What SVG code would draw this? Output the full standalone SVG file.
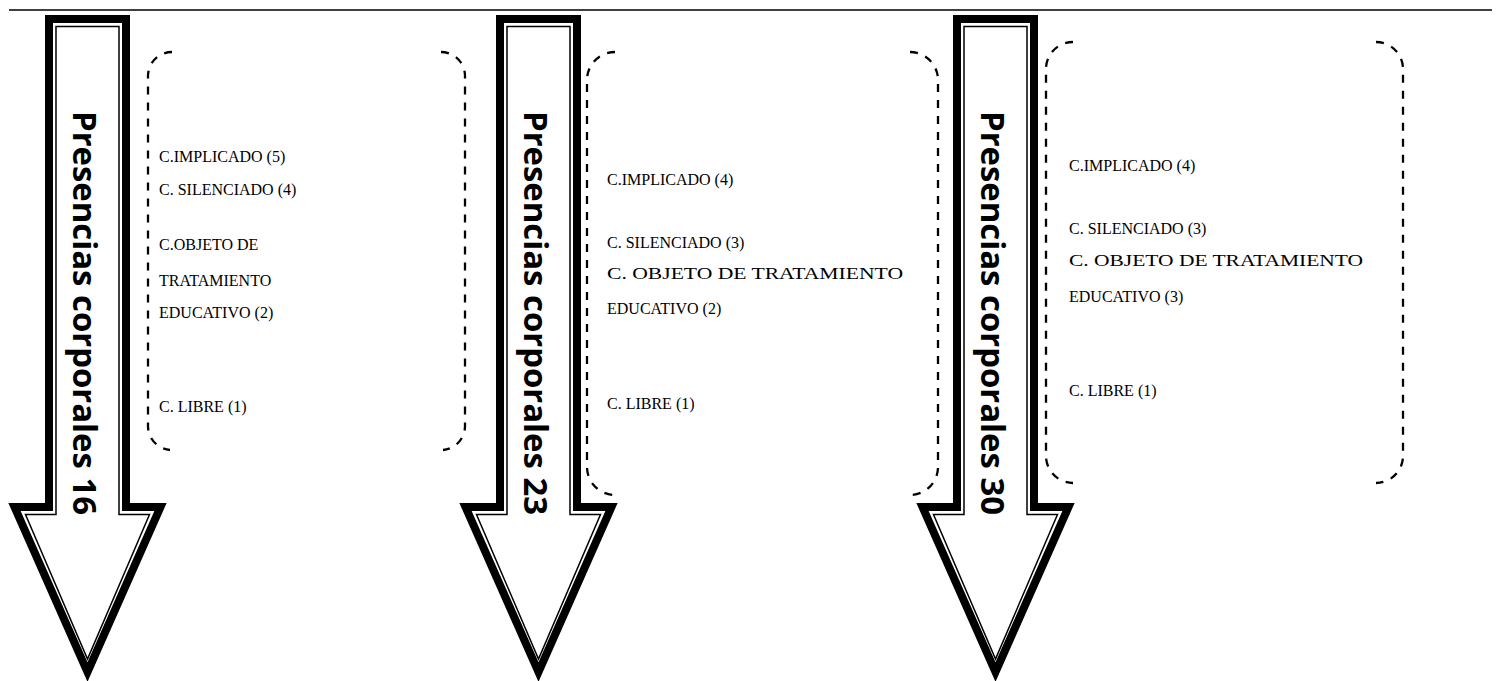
<svg xmlns="http://www.w3.org/2000/svg" width="1502" height="681" viewBox="0 0 1502 681">
<style>
.outer{fill:#fff;stroke:#000;stroke-width:8;stroke-linejoin:miter;stroke-miterlimit:10}
.inner{fill:none;stroke:#000;stroke-width:1.5;stroke-linejoin:miter;stroke-miterlimit:10}
.lbl{font-family:"Open Sans",sans-serif;font-weight:bold;font-size:32px;fill:#000}
.br{fill:none;stroke:#000;stroke-width:2.3;stroke-dasharray:8 8}
.t{font-family:"Liberation Serif","Times New Roman",serif;font-size:16px;fill:#000}
</style>
<line x1="9" y1="10" x2="1492" y2="10" stroke="#000" stroke-width="1.5"/>
<g id="arrow1">
<polygon class="outer" points="49,19 126,19 126,507 160.5,507 87.5,672 14.5,507 49,507"/>
<polygon class="inner" points="56,26.5 119,26.5 119,514.5 149.5,514.5 87.5,659 25.5,514.5 56,514.5"/>
<text class="lbl" transform="translate(73,111) rotate(90)" textLength="404" lengthAdjust="spacingAndGlyphs">Presencias corporales 16</text>
</g>
<g id="arrow2">
<polygon class="outer" points="500,19 577,19 577,507 611.5,507 538.5,672 465.5,507 500,507"/>
<polygon class="inner" points="507,26.5 570,26.5 570,514.5 600.5,514.5 538.5,659 476.5,514.5 507,514.5"/>
<text class="lbl" transform="translate(524,111) rotate(90)" textLength="404" lengthAdjust="spacingAndGlyphs">Presencias corporales 23</text>
</g>
<g id="arrow3">
<polygon class="outer" points="957,19 1034,19 1034,507 1068.5,507 995.5,672 922.5,507 957,507"/>
<polygon class="inner" points="964,26.5 1027,26.5 1027,514.5 1057.5,514.5 995.5,659 933.5,514.5 964,514.5"/>
<text class="lbl" transform="translate(981,111) rotate(90)" textLength="404" lengthAdjust="spacingAndGlyphs">Presencias corporales 30</text>
</g>
<g id="group1">
<path class="br" d="M172,52 A24,24 0 0 0 148,76 V426 A24,24 0 0 0 170,450"/>
<path class="br" d="M441,52 A24,24 0 0 1 465,76 V426 A24,24 0 0 1 443,450"/>
<text class="t" x="159" y="162">C.IMPLICADO (5)</text>
<text class="t" x="159" y="195">C. SILENCIADO (4)</text>
<text class="t" x="159" y="250">C.OBJETO DE</text>
<text class="t" x="159" y="286">TRATAMIENTO</text>
<text class="t" x="159" y="318">EDUCATIVO (2)</text>
<text class="t" x="159" y="412">C. LIBRE (1)</text>
</g>
<g id="group2">
<path class="br" d="M615,52 A28,28 0 0 0 587,80 V467 A28,28 0 0 0 615,495"/>
<path class="br" d="M910,52 A28,28 0 0 1 938,80 V467 A28,28 0 0 1 910,495"/>
<text class="t" x="607" y="185">C.IMPLICADO (4)</text>
<text class="t" x="607" y="248">C. SILENCIADO (3)</text>
<text class="t" x="607" y="279" textLength="296" lengthAdjust="spacingAndGlyphs">C. OBJETO DE TRATAMIENTO</text>
<text class="t" x="607" y="314">EDUCATIVO (2)</text>
<text class="t" x="607" y="409">C. LIBRE (1)</text>
</g>
<g id="group3">
<path class="br" d="M1073,42 A27,27 0 0 0 1046,69 V456 A27,27 0 0 0 1073,483"/>
<path class="br" d="M1376,42 A27,27 0 0 1 1403,69 V456 A27,27 0 0 1 1376,483"/>
<text class="t" x="1069" y="171">C.IMPLICADO (4)</text>
<text class="t" x="1069" y="234">C. SILENCIADO (3)</text>
<text class="t" x="1069" y="266" textLength="294" lengthAdjust="spacingAndGlyphs">C. OBJETO DE TRATAMIENTO</text>
<text class="t" x="1069" y="302">EDUCATIVO (3)</text>
<text class="t" x="1069" y="396">C. LIBRE (1)</text>
</g>
</svg>
